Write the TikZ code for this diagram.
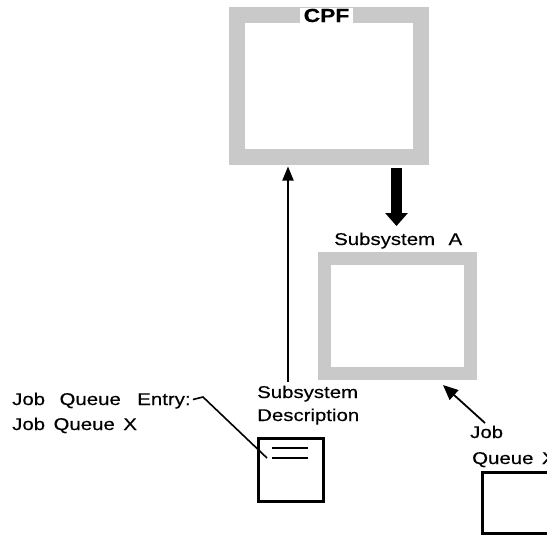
\documentclass[tikz,border=0pt]{standalone}
\usepackage{fontspec}
\setmainfont{Liberation Sans}[FakeStretch=1.2,WordSpace=1.5,FakeBold=0.4]
\usetikzlibrary{arrows.meta,calc}
\begin{document}
\begin{tikzpicture}[x=1pt,y=-1pt,
  band/.style={draw=gray!42, inner sep=0pt, outer sep=0pt},
  lbl/.style={font=\fontsize{17}{20}\selectfont, inner sep=0pt, anchor=base west},
  conn/.style={line width=1.8pt},
  boxline/.style={draw, line width=2.6pt, inner sep=0pt, outer sep=0pt},
  docline/.style={line width=1.6pt}]
\useasboundingbox (0,0) rectangle (547,539);
\clip (0,0) rectangle (547,539);

% CPF box
\node[band, line width=16pt, minimum width=184pt, minimum height=142pt] (cpf) at (329,86) {};
\node[font=\bfseries\fontsize{19}{20}\selectfont, fill=white, inner sep=0pt,
      minimum width=53pt, minimum height=16pt] (cpflbl) at (326.5,15.5) {CPF};

% Subsystem A box
\node[band, line width=13pt, minimum width=146pt, minimum height=115pt] (ssa) at (397.5,316) {};
\node[lbl] (ssalbl) at (334,245) {Subsystem\hspace{5pt} A};

% big arrow CPF -> Subsystem A
\coordinate (bigStart) at (396.5,168);
\coordinate (bigEnd) at (396.5,226);
\draw[line width=11pt, -{Triangle[width=22pt,length=13pt]}] (bigStart) -- (bigEnd);

% Subsystem description
\node[lbl] (desc1) at (257,398) {Subsystem};
\node[lbl] (desc2) at (257,421) {Description};
\coordinate (descTop) at (288,382);
\coordinate (cpfBot) at (288,166.5);
\draw[conn, -{Triangle[width=11pt,length=14pt]}] (descTop) -- (cpfBot);

% document box
\node[boxline, minimum width=65.5pt, minimum height=63.5pt] (doc) at (291,470) {};
\coordinate (l1a) at (272,448); \coordinate (l1b) at (308,448);
\coordinate (l2a) at (272,458); \coordinate (l2b) at (308,458);
\draw[docline] (l1a) -- (l1b);
\draw[docline] (l2a) -- (l2b);

% Job queue entry label and leader
\node[lbl] (je1) at (12,405) {Job\hspace{6pt} Queue\hspace{8pt} Entry:};
\node[lbl] (je2) at (12,430) {Job Queue X};
\coordinate (lead0) at (193,399.5);
\coordinate (lead1) at (203,397);
\coordinate (lead2) at (267,458);
\draw[docline] (lead0) -- (lead1) -- (lead2);

% Job queue X
\node[lbl] (jq1) at (470,438) {Job};
\node[lbl] (jq2) at (472,464) {Queue X};
\coordinate (jqTail) at (485,423);
\coordinate (ssaCorner) at (443,385);
\draw[conn, -{Triangle[width=13pt,length=15pt]}] (jqTail) -- (ssaCorner);
\node[boxline, minimum width=100pt, minimum height=61.5pt] (jqx) at (532.25,503) {};
\end{tikzpicture}
\end{document}
